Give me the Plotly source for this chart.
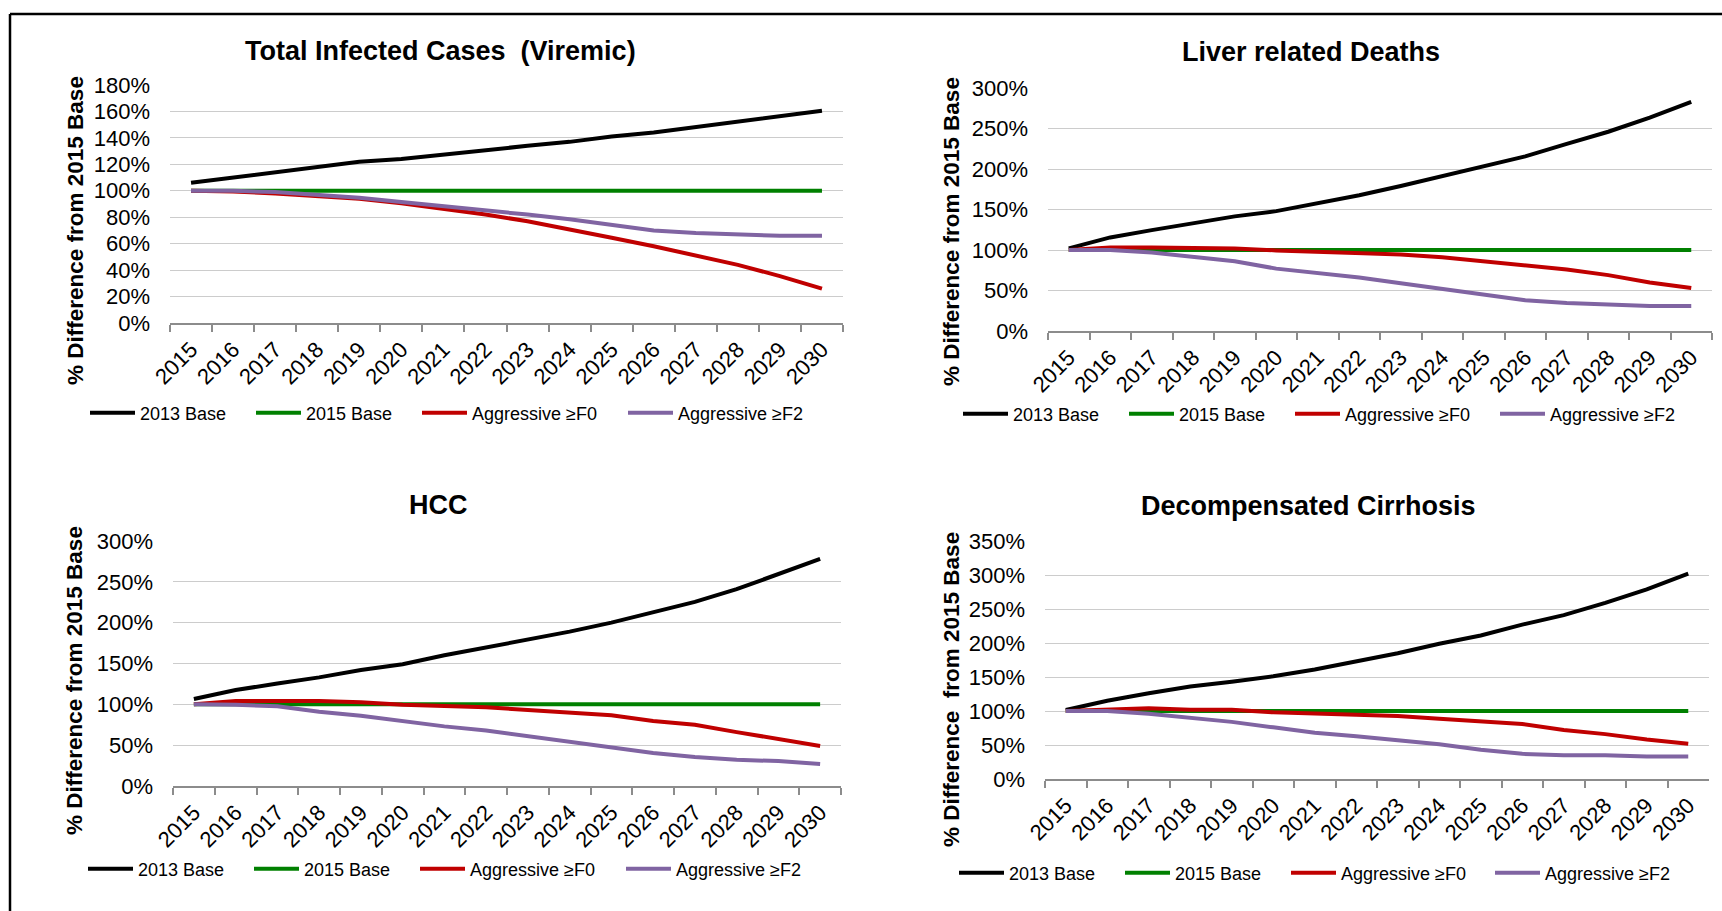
import plotly.graph_objects as go

W, H = 1722, 911

years = ["2015", "2016", "2017", "2018", "2019", "2020", "2021", "2022",
         "2023", "2024", "2025", "2026", "2027", "2028", "2029", "2030"]

series_names = ["2013 Base", "2015 Base", "Aggressive ≥F0", "Aggressive ≥F2"]
series_colors = ["#000000", "#008000", "#C00000", "#8064A2"]

panel_titles = ["Total Infected Cases  (Viremic)", "Liver related Deaths", "HCC", "Decompensated Cirrhosis"]
y_titles = ["% Difference from 2015 Base", "% Difference from 2015 Base",
            "% Difference from 2015 Base", "% Difference\u00a0 from 2015 Base"]

# Total Infected Cases (Viremic)
total_2013 = [106, 110, 113.5, 118, 122, 124, 127.5, 131, 134, 137, 141, 144, 148, 152, 156.5, 160.5]
total_2015 = [100, 100, 100, 100, 100, 100, 100, 100, 100, 100, 100, 100, 100, 100, 100, 100]
total_f0 = [100, 99.5, 98, 96, 94, 90.5, 86.5, 82, 77, 71, 64.5, 58, 51, 44, 35.5, 26]
total_f2 = [100, 100, 99, 97, 94.7, 91.5, 88.5, 85.5, 82, 78.5, 74, 70, 68, 67, 66, 66]

# Liver related Deaths
ld_2013 = [102, 115.5, 124.5, 133, 141.5, 148, 158, 167.5, 179, 191, 202.5, 215.5, 231, 246, 263.5, 283]
ld_2015 = [100, 100, 100, 100, 100, 100, 100, 100, 100, 100, 100, 100, 100, 100, 100, 100]
ld_f0 = [100, 103, 103, 103, 102, 99.5, 97.5, 96, 94.5, 91, 86, 81, 76, 69, 60, 53]
ld_f2 = [100, 100, 97, 92, 86, 77, 72, 66, 59, 52, 45, 38, 34.5, 33, 31, 31]

# HCC
hcc_2013 = [106.5, 117.5, 125.5, 133, 142, 149, 160, 169.5, 179, 189, 200, 212.5, 225.5, 241, 260, 278]
hcc_2015 = [100, 100, 100, 100, 100, 100, 100, 100, 100, 100, 100, 100, 100, 100, 100, 100]
hcc_f0 = [100, 104, 104, 104, 102.5, 99.5, 98, 96.5, 93, 89.5, 86.5, 79.5, 75, 66, 57, 49]
hcc_f2 = [100, 99.5, 97.5, 91, 86, 79.5, 73, 68, 61, 54.5, 47.5, 40.5, 35.5, 32, 30.5, 27]

# Decompensated Cirrhosis
dc_2013 = [101.5, 115, 126, 136, 143, 151, 161, 173, 185, 199, 211, 227, 241, 259, 279, 302]
dc_2015 = [100, 100, 100, 100, 100, 100, 100, 100, 100, 100, 100, 100, 100, 100, 100, 100]
dc_f0 = [100, 102, 104, 102, 102, 98, 96.5, 94.5, 92.5, 88.5, 85, 81, 72, 66, 58, 52]
dc_f2 = [100, 100, 96, 90, 84, 76, 68, 63, 57, 51, 43, 37, 35, 35, 33, 33]

panel_data = [
    [total_2013, total_2015, total_f0, total_f2],
    [ld_2013, ld_2015, ld_f0, ld_f2],
    [hcc_2013, hcc_2015, hcc_f0, hcc_f2],
    [dc_2013, dc_2015, dc_f0, dc_f2],
]
y_max = [180, 300, 300, 350]
y_step = [20, 50, 50, 50]

# ---- layout geometry (pixels) ----
plot_boxes = [(170, 843, 85, 323), (1048, 1712, 88, 331), (173, 841, 541, 786), (1045, 1709, 541, 779)]
title_pos = [(440, 51), (1311, 52), (438, 505), (1308, 506)]
ytitle_pos = [(75, 231), (951, 232), (74, 681), (951, 690)]
legend_x = [[90, 256, 422, 628], [963, 1129, 1295, 1500], [88, 254, 420, 626], [959, 1125, 1291, 1495]]
legend_y = [413, 414, 869, 873]

FONT = "Liberation Sans, Arial, Helvetica, sans-serif"


def px(x):
    return x / W


def py(y):
    return 1 - y / H


fig = go.Figure()
layout = dict(
    width=W, height=H, autosize=False,
    margin=dict(l=0, r=0, t=0, b=0, pad=0, autoexpand=False),
    paper_bgcolor="white", plot_bgcolor="white",
    font=dict(family=FONT, color="#000000"),
    showlegend=True,
    annotations=[], shapes=[],
)

for p in range(4):
    ax = "" if p == 0 else str(p + 1)
    x0, x1, y0, y1 = plot_boxes[p]
    layout["xaxis" + ax] = dict(
        domain=[px(x0), px(x1)], anchor="y" + ax,
        type="category", categoryorder="array", categoryarray=years,
        range=[-0.5, 15.5], tickson="boundaries",
        ticks="outside", ticklen=7, tickwidth=1.5, tickcolor="#8c8c8c",
        showline=True, linecolor="#8c8c8c", linewidth=2,
        showgrid=False, zeroline=False, tickangle=-45,
        ticklabelstandoff=3, automargin=False,
        tickfont=dict(size=22, family=FONT, color="#000000"),
        fixedrange=True,
    )
    layout["yaxis" + ax] = dict(
        domain=[py(y1), py(y0)], anchor="x" + ax,
        range=[0, y_max[p]], dtick=y_step[p], tick0=0, ticksuffix="%",
        showgrid=True, gridcolor="#cccccc", gridwidth=1.3,
        zeroline=False, showline=False, ticks="",
        ticklabelstandoff=19, automargin=False,
        tickfont=dict(size=22, family=FONT, color="#000000"),
        fixedrange=True,
    )
    for s in range(4):
        lid = p * 4 + s + 1
        lname = "legend" if lid == 1 else "legend%d" % lid
        fig.add_trace(go.Scatter(
            x=years, y=panel_data[p][s], mode="lines", name=series_names[s],
            line=dict(color=series_colors[s], width=4),
            xaxis="x" + ax, yaxis="y" + ax, legend=lname,
            hovertemplate="%{x}: %{y}%<extra>" + series_names[s] + "</extra>",
        ))
        layout[lname] = dict(
            x=px(legend_x[p][s] - 5), y=py(legend_y[p]),
            xanchor="left", yanchor="middle", orientation="h",
            bgcolor="rgba(0,0,0,0)", borderwidth=0,
            font=dict(size=18, family=FONT, color="#000000"),
            itemwidth=45, itemclick=False, itemdoubleclick=False,
        )
    layout["annotations"].append(dict(
        text=panel_titles[p], x=px(title_pos[p][0]), y=py(title_pos[p][1]),
        xref="paper", yref="paper", xanchor="center", yanchor="middle",
        showarrow=False, font=dict(size=27, family=FONT, color="#000000", weight=700),
    ))
    layout["annotations"].append(dict(
        text=y_titles[p], x=px(ytitle_pos[p][0]), y=py(ytitle_pos[p][1]),
        xref="paper", yref="paper", xanchor="center", yanchor="middle",
        textangle=-90, showarrow=False,
        font=dict(size=22.5, family=FONT, color="#000000", weight=700),
    ))

# outer frame (top and left edges)
layout["shapes"].append(dict(type="line", xref="paper", yref="paper",
                             x0=px(10), x1=1, y0=py(14), y1=py(14),
                             line=dict(color="#000000", width=2.5)))
layout["shapes"].append(dict(type="line", xref="paper", yref="paper",
                             x0=px(10), x1=px(10), y0=py(14), y1=0,
                             line=dict(color="#000000", width=2.5)))

fig.update_layout(**layout)
fig.write_html("out.html", config={"displayModeBar": False},
               post_script="document.body.style.margin='0';document.body.style.overflow='hidden';")
